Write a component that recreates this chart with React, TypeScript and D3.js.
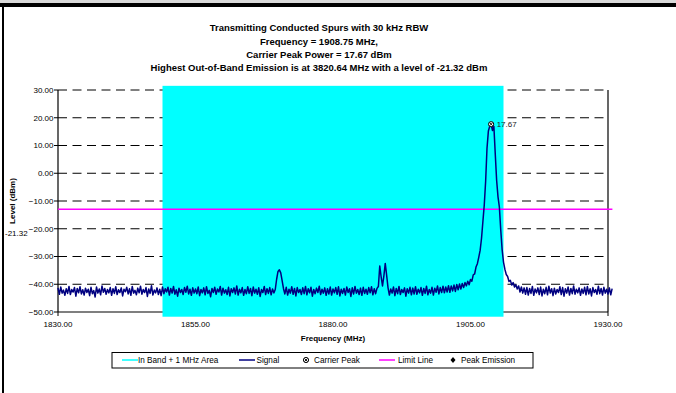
import React from "react";
import * as d3 from "d3";

// ---------- data ----------
const titleLines = [
  "Transmitting Conducted Spurs with 30 kHz RBW",
  "Frequency = 1908.75 MHz,",
  "Carrier Peak Power = 17.67 dBm",
  "Highest Out-of-Band Emission is at 3820.64 MHz with a level of -21.32 dBm",
];
const xTicks = [1830, 1855, 1880, 1905, 1930];
const yTicks = [-50, -40, -30, -20, -10, 0, 10, 20, 30];
const xDomain = [1830, 1930];
const yDomain = [-50, 30];

// In Band + 1 MHz area (MHz) and its level span (dBm)
const inBandArea = [1849, 1911];
const inBandLevels = [31.5, -51.7];

const limitLevel = -13;
const limitSpan = [1830, 1930.8];

const carrierPeak = { freq: 1908.75, level: 17.67 };
const peakEmission = { freq: 3820.64, level: -21.32 };

// Signal trace: start frequency, step (MHz) and levels (dBm)
const signalStart = 1830;
const signalStep = 0.25;
const signalLevels = [
  -41.3, -43.6, -41.0, -43.2, -42.1, -44.0, -41.6, -43.3, -40.8, -43.7, -41.9, -42.8, -41.2, -44.3, -41.5, -43.1, -40.9, -43.5, -42.0, -43.9,
  -41.4, -43.0, -41.8, -44.1, -41.1, -43.4, -42.3, -44.6, -41.0, -43.2, -41.7, -43.8, -40.6, -42.9, -41.5, -43.6, -41.9, -43.1, -41.2, -44.0,
  -41.6, -43.3, -40.9, -43.7, -42.0, -43.0, -41.3, -44.2, -41.8, -42.7, -41.1, -43.5, -41.6, -44.0, -40.8, -43.2, -42.2, -43.8, -41.4, -43.1,
  -40.7, -43.6, -41.9, -43.0, -41.2, -44.4, -41.7, -43.3, -40.5, -43.9, -42.1, -43.1, -41.3, -43.7, -41.8, -44.1, -41.0, -43.4, -41.6, -42.8,
  -41.1, -43.9, -41.5, -43.2, -40.8, -43.6, -42.0, -44.3, -41.4, -43.0, -41.9, -43.7, -41.2, -42.9, -40.7, -43.5, -41.8, -44.0, -41.3, -43.2,
  -41.7, -43.4, -41.0, -44.1, -41.9, -43.1, -41.3, -43.8, -40.9, -43.3, -42.2, -44.5, -41.5, -43.0, -41.1, -43.6, -41.7, -42.8, -40.8, -43.9,
  -41.4, -43.2, -42.0, -43.7, -41.1, -44.2, -41.6, -43.0, -41.3, -43.5, -40.6, -43.9, -41.8, -43.1, -41.2, -44.0, -41.9, -43.4, -40.9, -43.3,
  -41.5, -44.1, -41.0, -43.2, -41.8, -43.6, -41.3, -44.4, -41.9, -43.0, -40.8, -43.7, -41.6, -43.3, -41.2, -43.8, -41.7, -43.1, -41.9, -38.2,
  -35.4, -34.8, -35.9, -38.7, -41.6, -43.5, -41.1, -43.9, -41.8, -43.2, -40.9, -43.6, -41.5, -44.2, -41.2, -43.0, -41.9, -43.7, -41.3, -43.4,
  -40.8, -43.8, -41.6, -43.1, -41.1, -44.3, -41.9, -43.4, -41.4, -43.0, -40.7, -43.7, -41.8, -43.2, -41.3, -44.0, -41.6, -43.5, -41.0, -43.9,
  -41.7, -43.1, -41.2, -43.6, -40.9, -44.2, -41.8, -43.3, -41.5, -43.9, -41.0, -43.0, -41.6, -44.4, -41.3, -43.5, -40.8, -43.2, -41.9, -43.7,
  -41.4, -44.0, -41.1, -43.3, -41.8, -43.6, -41.2, -43.1, -40.9, -43.8, -41.6, -43.4, -41.5, -40.8, -33.4, -37.3, -40.6, -37.0, -32.5, -36.7,
  -41.2, -43.9, -41.7, -43.2, -41.0, -44.1, -41.5, -43.4, -40.8, -43.7, -41.9, -43.0, -41.3, -44.3, -41.6, -43.2, -41.1, -43.8, -41.4, -43.5,
  -40.9, -43.6, -41.8, -43.1, -41.2, -44.0, -41.5, -43.3, -40.7, -43.8, -41.9, -43.2, -41.1, -43.9, -41.4, -42.9, -40.6, -43.5, -41.2, -43.0,
  -40.7, -43.1, -41.0, -42.8, -40.5, -42.9, -40.6, -42.4, -40.3, -42.6, -40.1, -42.0, -39.9, -41.7, -39.7, -41.2, -39.4, -40.6, -38.9, -40.2,
  -38.3, -38.9, -36.6, -36.3, -33.8, -32.6, -30.3, -27.8, -23.5, -17.5, -11.5, -3.0, 9.0, 15.2, 17.0, 17.67, 15.4, 16.9, 7.0, -2.5,
  -8.5, -12.2, -20.5, -27.5, -32.0, -34.6, -36.5, -37.2, -39.0, -38.6, -40.3, -39.4, -41.0, -40.2, -41.7, -40.6, -42.8, -41.0, -43.2, -41.3,
  -43.6, -41.2, -43.9, -41.5, -43.3, -40.8, -44.0, -41.7, -43.1, -41.3, -43.7, -41.0, -44.2, -41.8, -43.4, -41.1, -43.8, -40.7, -43.2, -41.6,
  -44.1, -41.4, -43.5, -41.9, -43.0, -40.9, -43.7, -41.2, -44.3, -41.6, -43.2, -41.0, -43.9, -41.5, -43.4, -40.6, -43.6, -41.8, -43.1, -41.3,
  -44.0, -41.7, -43.3, -41.1, -43.8, -40.8, -43.5, -41.6, -44.2, -41.2, -43.0, -41.9, -43.6, -40.7, -43.4, -41.5, -43.9, -41.1, -43.2, -41.8,
  -43.5, -41.3, -43.8, -41.6,
];

const legendItems = [
  { label: "In Band + 1 MHz Area", kind: "line", color: "#00FFFF" },
  { label: "Signal", kind: "line", color: "#000080" },
  { label: "Carrier Peak", kind: "carrier", color: "#000" },
  { label: "Limit Line", kind: "line", color: "#FF00FF" },
  { label: "Peak Emission", kind: "diamond", color: "#000" },
];

// ---------- layout ----------
const W = 676;
const H = 393;
const plot = { left: 58, right: 608, top: 90, bottom: 312 };
const FONT = "'Liberation Sans', Arial, Helvetica, sans-serif";

export default function App() {
  const x = d3.scaleLinear().domain(xDomain).range([plot.left, plot.right]);
  const y = d3.scaleLinear().domain(yDomain).range([plot.bottom, plot.top]);

  const signal = signalLevels.map((v, i) => [signalStart + i * signalStep, v] as [number, number]);
  const line = d3
    .line<[number, number]>()
    .x((d) => x(d[0]))
    .y((d) => y(d[1]));

  const legendX = [122, 239, 306, 379, 453];
  const legendTextX = [138, 256.5, 314, 398, 461];
  const legendY = 360;

  const marker = (cx: number, cy: number) => (
    <g>
      <circle cx={cx} cy={cy} r={2.6} fill="#fff" stroke="#000" strokeWidth={1} />
      <path d={`M${cx - 1.5},${cy - 1.5}L${cx + 1.5},${cy + 1.5}M${cx - 1.5},${cy + 1.5}L${cx + 1.5},${cy - 1.5}`} stroke="#000" strokeWidth={0.9} />
    </g>
  );

  return (
    <svg
      width={W}
      height={H}
      style={{ position: "absolute", left: 0, top: 0, background: "#fff" }}
      fontFamily={FONT}
    >
      <rect x={0} y={0} width={W} height={H} fill="#fff" />
      {/* top bars and left frame */}
      <rect x={0} y={0} width={W} height={3} fill="#d9d9d9" />
      <rect x={0} y={3} width={W} height={4} fill="#000" />
      <rect x={2} y={3} width={2} height={H - 3} fill="#000" />

      {/* title */}
      {titleLines.map((t, i) => (
        <text key={i} x={319} y={31.2 + i * 13.3} textAnchor="middle" fontSize={9.5} fontWeight="bold" fill="#000">
          {t}
        </text>
      ))}

      {/* gridlines */}
      {yTicks
        .filter((v) => v > yDomain[0])
        .map((v) => (
          <line key={v} x1={plot.left} x2={plot.right} y1={y(v)} y2={y(v)} stroke="#000" strokeWidth={1} strokeDasharray="9,5.5" />
        ))}

      {/* axes */}
      <line x1={plot.left} x2={plot.left} y1={plot.top} y2={plot.bottom} stroke="#000" strokeWidth={1.2} />
      <line x1={plot.right} x2={plot.right} y1={plot.top} y2={plot.bottom} stroke="#000" strokeWidth={1.2} />
      <line x1={plot.left} x2={plot.right} y1={plot.bottom} y2={plot.bottom} stroke="#000" strokeWidth={1.2} />
      {yTicks.map((v) => (
        <g key={v}>
          <line x1={plot.left - 4} x2={plot.left} y1={y(v)} y2={y(v)} stroke="#000" strokeWidth={1} />
          <text x={plot.left - 4.5} y={y(v)} dy="0.35em" textAnchor="end" fontSize={8} fill="#000">
            {d3.format(".2f")(v)}
          </text>
        </g>
      ))}
      {xTicks.map((v) => (
        <g key={v}>
          <line x1={x(v)} x2={x(v)} y1={plot.bottom} y2={plot.bottom + 4} stroke="#000" strokeWidth={1} />
          <text x={x(v)} y={plot.bottom + 12} dy="0.35em" textAnchor="middle" fontSize={8} fill="#000">
            {d3.format(".2f")(v)}
          </text>
        </g>
      ))}

      {/* in band area */}
      <rect
        x={x(inBandArea[0])}
        width={x(inBandArea[1]) - x(inBandArea[0])}
        y={y(inBandLevels[0])}
        height={y(inBandLevels[1]) - y(inBandLevels[0])}
        fill="#00FFFF"
      />

      {/* limit line */}
      <line x1={x(limitSpan[0])} x2={x(limitSpan[1])} y1={y(limitLevel)} y2={y(limitLevel)} stroke="#FF00FF" strokeWidth={1.5} />

      {/* signal */}
      <path d={line(signal) || ""} fill="none" stroke="#000080" strokeWidth={1.5} strokeLinejoin="round" />

      {/* carrier peak */}
      {marker(x(carrierPeak.freq), y(carrierPeak.level))}
      <text x={x(carrierPeak.freq) + 5.5} y={y(carrierPeak.level)} dy="0.35em" fontSize={8} fill="#222">
        {carrierPeak.level.toFixed(2)}
      </text>

      {/* peak emission label (point beyond x range) */}
      {peakEmission.freq > xDomain[1] && (
        <text x={5} y={y(peakEmission.level) + 1} dy="0.35em" fontSize={8} fill="#000">
          {peakEmission.level.toFixed(2)}
        </text>
      )}

      {/* axis titles */}
      <text x={(plot.left + plot.right) / 2} y={338.5} dy="0.35em" textAnchor="middle" fontSize={8} fontWeight="bold">
        Frequency (MHz)
      </text>
      <text
        transform={`translate(12.5,${(plot.top + plot.bottom) / 2}) rotate(-90)`}
        textAnchor="middle"
        dy="0.35em"
        fontSize={8}
        fontWeight="bold"
      >
        Level (dBm)
      </text>

      {/* legend */}
      <rect x={112} y={352.5} width={421} height={15.5} fill="#fff" stroke="#000" strokeWidth={1} />
      {legendItems.map((it, i) => (
        <g key={it.label}>
          {it.kind === "line" && (
            <line x1={legendX[i]} x2={legendX[i] + 16} y1={legendY} y2={legendY} stroke={it.color} strokeWidth={1.5} />
          )}
          {it.kind === "carrier" && marker(legendX[i], legendY)}
          {it.kind === "diamond" && (
            <path d={`M${legendX[i]},${legendY - 3}L${legendX[i] + 2.5},${legendY}L${legendX[i]},${legendY + 3}L${legendX[i] - 2.5},${legendY}Z`} fill="#000" />
          )}
          <text x={legendTextX[i]} y={legendY} dy="0.35em" fontSize={8.2} fill="#000">
            {it.label}
          </text>
        </g>
      ))}
    </svg>
  );
}
